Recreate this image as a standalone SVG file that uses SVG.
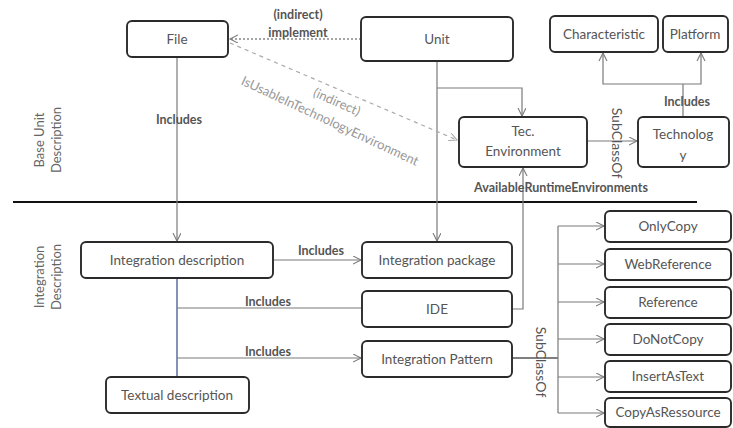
<svg xmlns="http://www.w3.org/2000/svg" width="733" height="428" viewBox="0 0 733 428">
<defs>
<style>
.box{fill:#fff;stroke:#2a2a2a;stroke-width:1.9}
.t{font-family:Lato,"Open Sans",sans-serif;font-size:13.5px;fill:#555;text-anchor:middle}
.lb{font-family:Lato,"Open Sans",sans-serif;font-size:12.5px;font-weight:bold;fill:#555;text-anchor:middle}
.side{font-family:Lato,"Open Sans",sans-serif;font-size:13px;fill:#666;text-anchor:middle}
.g{font-family:Lato,"Open Sans",sans-serif;font-size:13px;fill:#999;text-anchor:middle}
.r{font-family:Lato,"Open Sans",sans-serif;font-size:14px;fill:#555;text-anchor:middle}
.c{fill:none;stroke:#7a7a7a;stroke-width:1.2}
</style>
<marker id="a" markerWidth="10" markerHeight="10" refX="8" refY="4" orient="auto" markerUnits="userSpaceOnUse">
<path d="M0,0 L8,4 L0,8" fill="none" stroke="#7a7a7a" stroke-width="1.1"/>
</marker>
<marker id="ad" markerWidth="10" markerHeight="10" refX="8" refY="4" orient="auto" markerUnits="userSpaceOnUse">
<path d="M0,0 L8,4 L0,8" fill="none" stroke="#aaa" stroke-width="1.1"/>
</marker>
</defs>
<rect width="733" height="428" fill="#fff"/>

<g id="sections">
<line x1="13" y1="202" x2="697" y2="202" stroke="#111" stroke-width="2"/>
<text class="side" transform="translate(44,140) rotate(-90)">Base Unit</text>
<text class="side" transform="translate(61,140) rotate(-90)">Description</text>
<text class="side" transform="translate(44,277) rotate(-90)">Integration</text>
<text class="side" transform="translate(61,277) rotate(-90)">Description</text>
</g>

<g id="connectors">
<line class="c" x1="177" y1="57" x2="177" y2="241" marker-end="url(#a)"/>
<line class="c" x1="437" y1="61" x2="437" y2="241" marker-end="url(#a)"/>
<polyline class="c" points="437,88 522,88 522,116" marker-end="url(#a)"/>
<line x1="361" y1="39" x2="230" y2="39" stroke="#888" stroke-width="1.4" stroke-dasharray="2,2" marker-end="url(#a)"/>
<line x1="230" y1="43" x2="457" y2="140" stroke="#aaa" stroke-width="1.2" stroke-dasharray="4,4" marker-end="url(#ad)"/>
<line class="c" x1="587" y1="141" x2="637" y2="141" marker-end="url(#a)"/>
<line class="c" x1="683" y1="117" x2="683" y2="84"/>
<polyline class="c" points="603,53 603,84 701,84 701,53"/>
<path d="M599,61 L603,53 L607,61 M697,61 L701,53 L705,61" fill="none" stroke="#7a7a7a" stroke-width="1.1"/>
<polyline class="c" points="512,309 523,309 523,168" marker-end="url(#a)"/>
<line class="c" x1="273" y1="260" x2="361" y2="260" marker-end="url(#a)"/>
<line x1="177" y1="278" x2="177" y2="377" stroke="#5a6e9c" stroke-width="1.5"/>
<line class="c" x1="177" y1="308" x2="362" y2="308"/>
<line class="c" x1="177" y1="358" x2="361" y2="358" marker-end="url(#a)"/>
<line x1="512" y1="358" x2="558" y2="358" stroke="#555" stroke-width="1.4"/>
<line class="c" x1="558" y1="226" x2="558" y2="413"/>
<line class="c" x1="558" y1="226" x2="604" y2="226" marker-end="url(#a)"/>
<line class="c" x1="558" y1="264" x2="604" y2="264" marker-end="url(#a)"/>
<line class="c" x1="558" y1="302" x2="604" y2="302" marker-end="url(#a)"/>
<line class="c" x1="558" y1="339" x2="604" y2="339" marker-end="url(#a)"/>
<line class="c" x1="558" y1="377" x2="604" y2="377" marker-end="url(#a)"/>
<line class="c" x1="558" y1="413" x2="604" y2="413" marker-end="url(#a)"/>
</g>

<g id="connector-labels">
<text class="lb" x="298" y="19">(indirect)</text>
<text class="lb" x="298" y="37">implement</text>
<text class="g" transform="translate(335,106) rotate(24)">(indirect)</text>
<text class="g" transform="translate(328,125) rotate(25)">IsUsableInTechnologyEnvironment</text>
<text class="lb" x="179" y="124">Includes</text>
<text class="lb" x="687" y="106">Includes</text>
<text class="lb" x="561" y="192">AvailableRuntimeEnvironments</text>
<text class="lb" x="321" y="255">Includes</text>
<text class="lb" x="268" y="306">Includes</text>
<text class="lb" x="268" y="356">Includes</text>
<text class="r" transform="translate(612,143) rotate(90)">SubClassOf</text>
<text class="r" transform="translate(536,362) rotate(90)">SubClassOf</text>
</g>

<g id="file"><rect class="box" x="127" y="21" width="101" height="36" rx="5"/><text class="t" x="177" y="44">File</text></g>
<g id="unit"><rect class="box" x="361" y="17" width="152" height="44" rx="5"/><text class="t" x="437" y="44">Unit</text></g>
<g id="characteristic"><rect class="box" x="550" y="16" width="108" height="36" rx="5"/><text class="t" x="604" y="39">Characteristic</text></g>
<g id="platform"><rect class="box" x="663" y="16" width="65" height="36" rx="5"/><text class="t" x="695" y="39">Platform</text></g>
<g id="tec-environment"><rect class="box" x="459" y="117" width="128" height="50" rx="5"/><text class="t" x="523" y="136">Tec.</text><text class="t" x="523" y="156">Environment</text></g>
<g id="technology"><rect class="box" x="638" y="117" width="91" height="50" rx="5"/><text class="t" x="683" y="139">Technolog</text><text class="t" x="683" y="160">y</text></g>
<g id="integration-description"><rect class="box" x="81" y="242" width="192" height="36" rx="5"/><text class="t" x="177" y="265">Integration description</text></g>
<g id="integration-package"><rect class="box" x="362" y="242" width="150" height="36" rx="5"/><text class="t" x="437" y="265">Integration package</text></g>
<g id="ide"><rect class="box" x="362" y="291" width="150" height="36" rx="5"/><text class="t" x="437" y="314">IDE</text></g>
<g id="integration-pattern"><rect class="box" x="362" y="341" width="150" height="36" rx="5"/><text class="t" x="437" y="364">Integration Pattern</text></g>
<g id="textual-description"><rect class="box" x="106" y="377" width="143" height="36" rx="5"/><text class="t" x="177" y="400">Textual description</text></g>
<g id="onlycopy"><rect class="box" x="605" y="211" width="126" height="31" rx="5"/><text class="t" x="668" y="231">OnlyCopy</text></g>
<g id="webreference"><rect class="box" x="605" y="249" width="126" height="31" rx="5"/><text class="t" x="668" y="269">WebReference</text></g>
<g id="reference"><rect class="box" x="605" y="287" width="126" height="31" rx="5"/><text class="t" x="668" y="307">Reference</text></g>
<g id="donotcopy"><rect class="box" x="605" y="324" width="126" height="31" rx="5"/><text class="t" x="668" y="344">DoNotCopy</text></g>
<g id="insertastext"><rect class="box" x="605" y="361" width="126" height="31" rx="5"/><text class="t" x="668" y="381">InsertAsText</text></g>
<g id="copyasressource"><rect class="box" x="605" y="398" width="126" height="29" rx="5"/><text class="t" x="668" y="417">CopyAsRessource</text></g>
</svg>
